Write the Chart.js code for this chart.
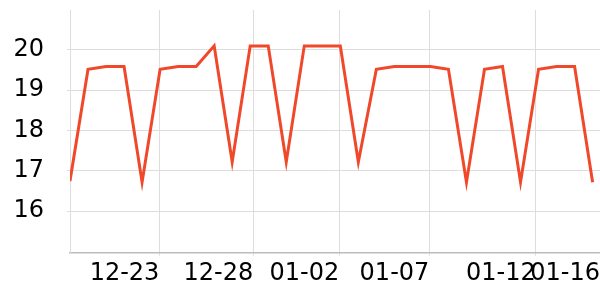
<!DOCTYPE html>
<html>
<head>
<meta charset="utf-8">
<script src="https://cdn.jsdelivr.net/npm/chart.js@4/dist/chart.umd.min.js"></script>
<style>
  html, body { margin: 0; padding: 0; background: #fff; }
  #wrap { width: 600px; height: 300px; }
</style>
</head>
<body>
<div id="wrap"><canvas id="c" width="600" height="300"></canvas></div>
<script>
// Day index 0 = 12-18 ... 29 = 01-16
const dates = ['12-18','12-19','12-20','12-21','12-22','12-23','12-24','12-25','12-26','12-27',
               '12-28','12-29','12-30','12-31','01-01','01-02','01-03','01-04','01-05','01-06',
               '01-07','01-08','01-09','01-10','01-11','01-12','01-13','01-14','01-15','01-16'];
const values = [16.75, 19.52, 19.59, 19.59, 16.72, 19.52, 19.59, 19.59, 20.10, 17.22,
                20.10, 20.10, 17.22, 20.10, 20.10, 20.10, 17.22, 19.52, 19.59, 19.59,
                19.59, 19.52, 16.72, 19.52, 19.59, 16.72, 19.52, 19.59, 19.59, 16.72];
const xTickLabels = ['12-23','12-28','01-02','01-07','01-12','01-16'];
const xTickDays = [4.96, 10.17, 14.94, 19.94, 25.84, 29.41];
const yTickValues = [16, 17, 18, 19, 20];

const points = values.map((v, i) => ({ x: i, y: v }));
const FONT = { family: 'DejaVu Sans', size: 24 };

new Chart(document.getElementById('c'), {
  type: 'line',
  data: {
    datasets: [{
      label: 'value',
      data: points,
      borderColor: '#f0482b',
      borderWidth: 3,
      pointRadius: 0,
      fill: false,
      tension: 0
    }]
  },
  options: {
    responsive: false,
    animation: false,
    devicePixelRatio: 1,
    layout: { padding: { top: 10, right: 0, left: 0, bottom: 0 } },
    plugins: { legend: { display: false }, tooltip: { enabled: false } },
    scales: {
      x: {
        type: 'linear',
        min: 0,
        max: 29.41,
        afterBuildTicks: (s) => { s.ticks = xTickDays.map(v => ({ value: v })); },
        afterFit: (s) => { s.height = 47.3; s.paddingLeft = 0; s.paddingRight = 0; },
        ticks: {
          autoSkip: false,
          maxRotation: 0,
          align: 'end',
          padding: 4,
          color: '#000',
          font: FONT,
          callback: (v, i) => xTickLabels[i]
        },
        grid: {
          color: (ctx) => ctx.index === xTickDays.length - 1 ? 'rgba(0,0,0,0)' : '#dddddd',
          lineWidth: 1,
          tickLength: 3
        },
        border: { color: '#bbbbbb', width: 1.5 }
      },
      y: {
        min: 14.97,
        max: 20.99,
        afterBuildTicks: (s) => { s.ticks = yTickValues.map(v => ({ value: v })); },
        afterFit: (s) => { s.width = 70; s.paddingTop = 0; s.paddingBottom = 0; },
        ticks: {
          padding: 23,
          color: '#000',
          font: FONT,
          callback: (v) => String(v)
        },
        grid: { color: '#dddddd', lineWidth: 1, tickLength: 3 },
        border: { color: '#dddddd', width: 1 }
      }
    }
  }
});
</script>
</body>
</html>
